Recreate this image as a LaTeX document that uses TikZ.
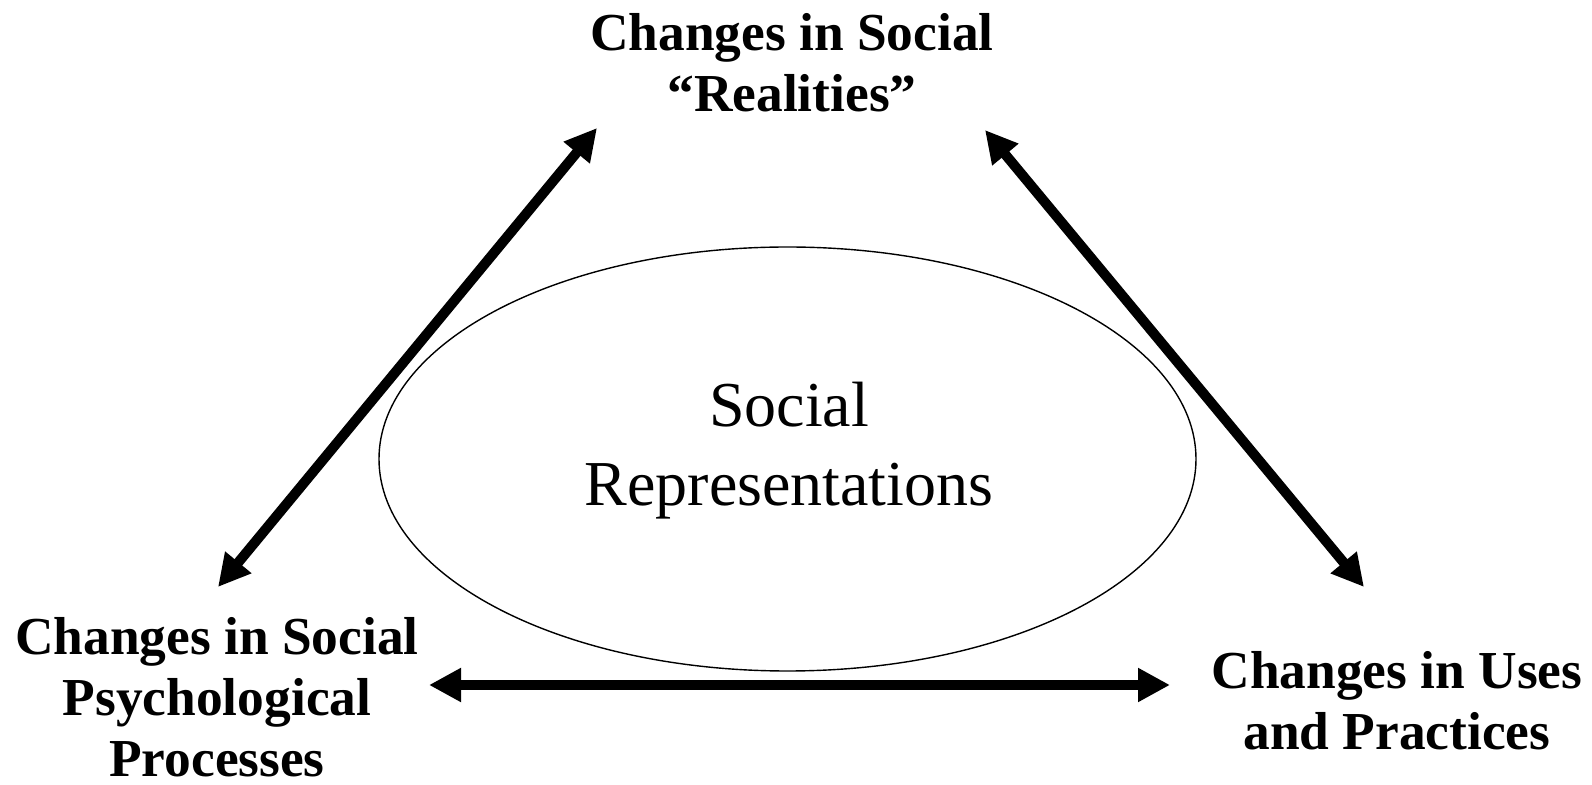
\documentclass[tikz,border=0pt]{standalone}
\usepackage{fontspec}
\setmainfont{Liberation Serif}
\usetikzlibrary{arrows.meta,shapes.geometric}

\begin{document}
\begin{tikzpicture}[x=0.5pt,y=-0.5pt,
% common options for the corner labels:
change/.style = {align=center, inner sep=0,
            font=\fontsize{26.7}{30.5}\selectfont\bfseries},
% common options for the thick double arrows:
link/.style = {{Triangle[length=16pt,width=16pt]}-{Triangle[length=16pt,width=16pt]},
            line width=5pt}]
\useasboundingbox (0,0) rectangle (1592,785);
\node[ellipse, draw, line width=0.7pt, minimum width=408.5pt, minimum height=212pt,
      inner sep=0] (SR) at (787.5,459) {};
\node[align=center, font=\fontsize{32}{39.5}\selectfont] (SRtext) at (789,451)
      {Social\\Representations};
\node[change] (real) at (792,63) {Changes in Social\\``Realities''};
\node[change] (psych) at (217,697) {Changes in Social\\Psychological\\Processes};
\node[change] (uses) at (1397,701) {Changes in Uses\\and Practices};
\draw[link] ([shift={(1,-110)}]psych.center) to ([shift={(-195,65)}]real.center);
\draw[link] ([shift={(193,67)}]real.center) to ([shift={(-33,-114)}]uses.center);
\draw[link] ([shift={(212,-12)}]psych.center) to ([shift={(-227,-16)}]uses.center);
\end{tikzpicture}
\end{document}
